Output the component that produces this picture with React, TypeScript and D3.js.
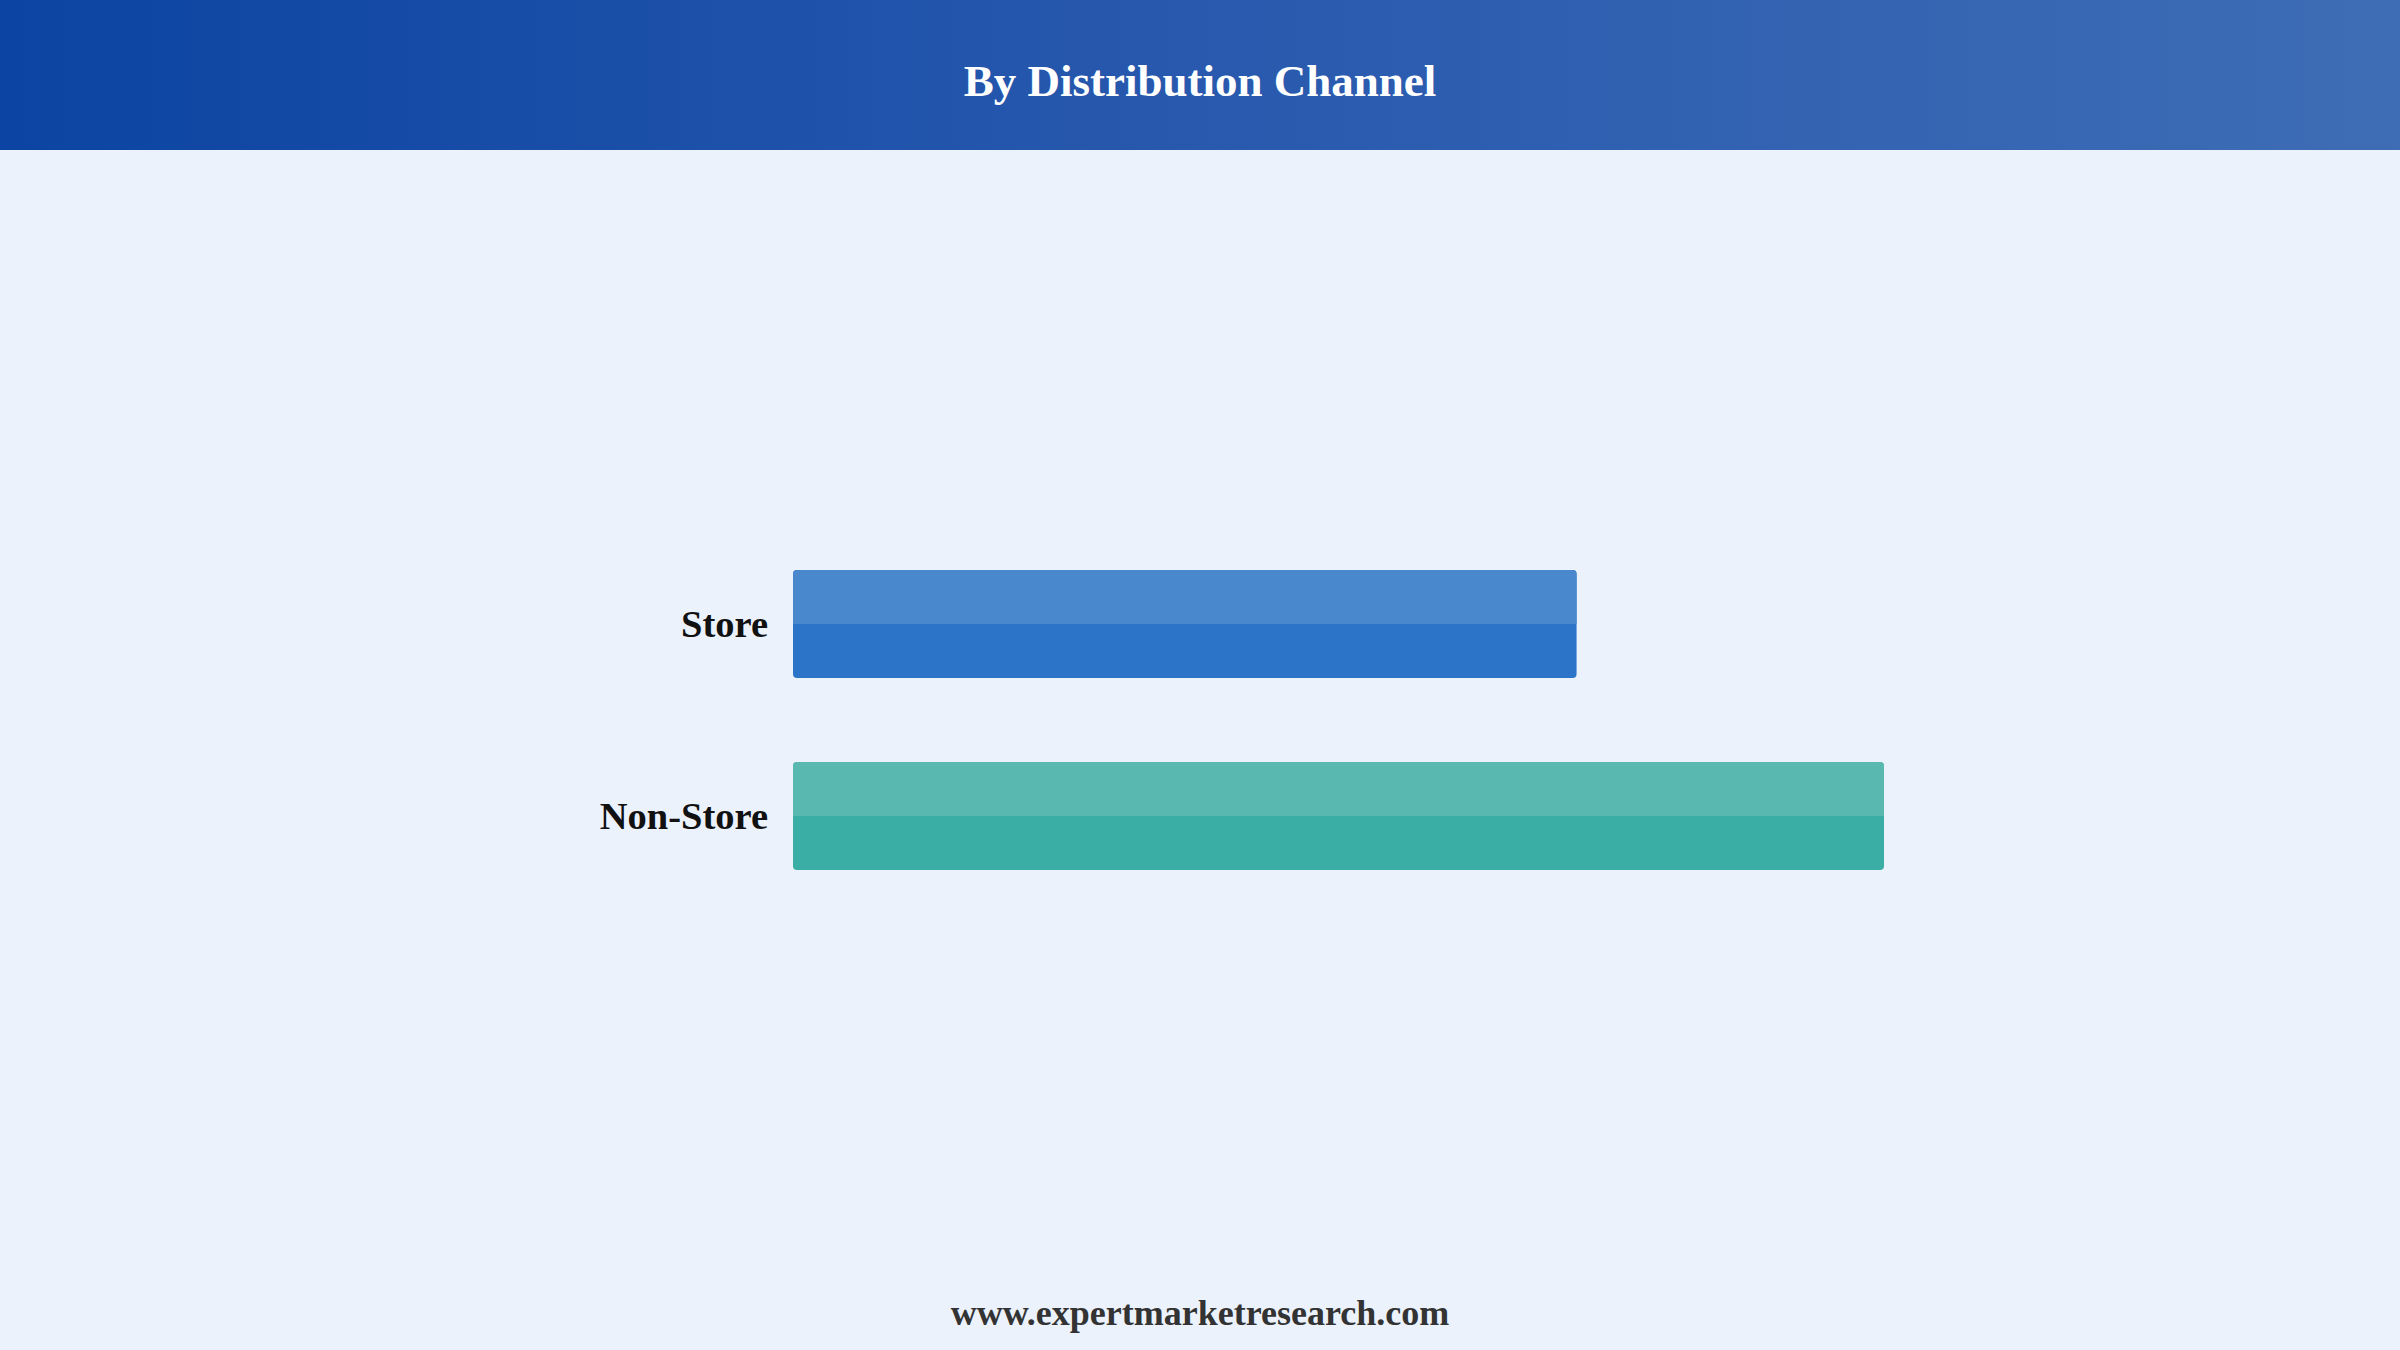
import React from "react";
import * as d3 from "d3";

const categories = ["Store", "Non-Store"];
const values = [41.8, 58.2];
const baseColors = ["#2B74C7", "#3AAEA5"];
const topColors = ["#4A88CD", "#59B9B0"];
const title = "By Distribution Channel";
const footer = "www.expertmarketresearch.com";

const W = 2400;
const H = 1350;
const FONT = "'Times New Roman', 'Liberation Serif', serif";

export default function App() {
  const x = d3.scaleLinear().domain([0, d3.max(values) as number]).range([793, 1884]);
  const y = d3.scaleBand<string>().domain(categories).range([474, 966]).paddingInner(0.4375).paddingOuter(0.5);
  const bw = y.bandwidth();
  const r = 4;

  const topPath = (x0: number, x1: number, y0: number, h: number) => {
    const p = d3.path();
    p.moveTo(x0, y0 + h);
    p.lineTo(x0, y0 + r);
    p.arcTo(x0, y0, x0 + r, y0, r);
    p.lineTo(x1 - r, y0);
    p.arcTo(x1, y0, x1, y0 + r, r);
    p.lineTo(x1, y0 + h);
    p.closePath();
    return p.toString();
  };

  return (
    <svg
      width={W}
      height={H}
      style={{ position: "fixed", left: 0, top: 0, display: "block" }}
    >
      <defs>
        <linearGradient id="hdr" x1="0" x2="1" y1="0" y2="0">
          <stop offset="0%" stopColor="#0B44A2" />
          <stop offset="50%" stopColor="#2859AE" />
          <stop offset="100%" stopColor="#3E6DB5" />
        </linearGradient>
      </defs>
      <rect x={0} y={0} width={W} height={H} fill="#EBF2FC" />
      <rect x={0} y={0} width={W} height={150} fill="url(#hdr)" />
      <text
        x={W / 2}
        y={96}
        textAnchor="middle"
        fill="#FFFFFF"
        fontFamily={FONT}
        fontWeight="bold"
        fontSize={45}
      >
        {title}
      </text>
      {categories.map((c, i) => {
        const y0 = y(c) as number;
        const x0 = x(0);
        const x1 = x(values[i]);
        return (
          <g key={c}>
            <rect x={x0} y={y0} width={x1 - x0} height={bw} rx={r} ry={r} fill={baseColors[i]} />
            <path d={topPath(x0, x1, y0, bw / 2)} fill={topColors[i]} />
            <text
              x={768}
              y={y0 + bw / 2}
              dy="0.35em"
              textAnchor="end"
              fill="#111111"
              fontFamily={FONT}
              fontWeight="bold"
              fontSize={38.5}
            >
              {c}
            </text>
          </g>
        );
      })}
      <text
        x={W / 2}
        y={1325}
        textAnchor="middle"
        fill="#333333"
        fontFamily={FONT}
        fontWeight="bold"
        fontSize={36}
      >
        {footer}
      </text>
    </svg>
  );
}
